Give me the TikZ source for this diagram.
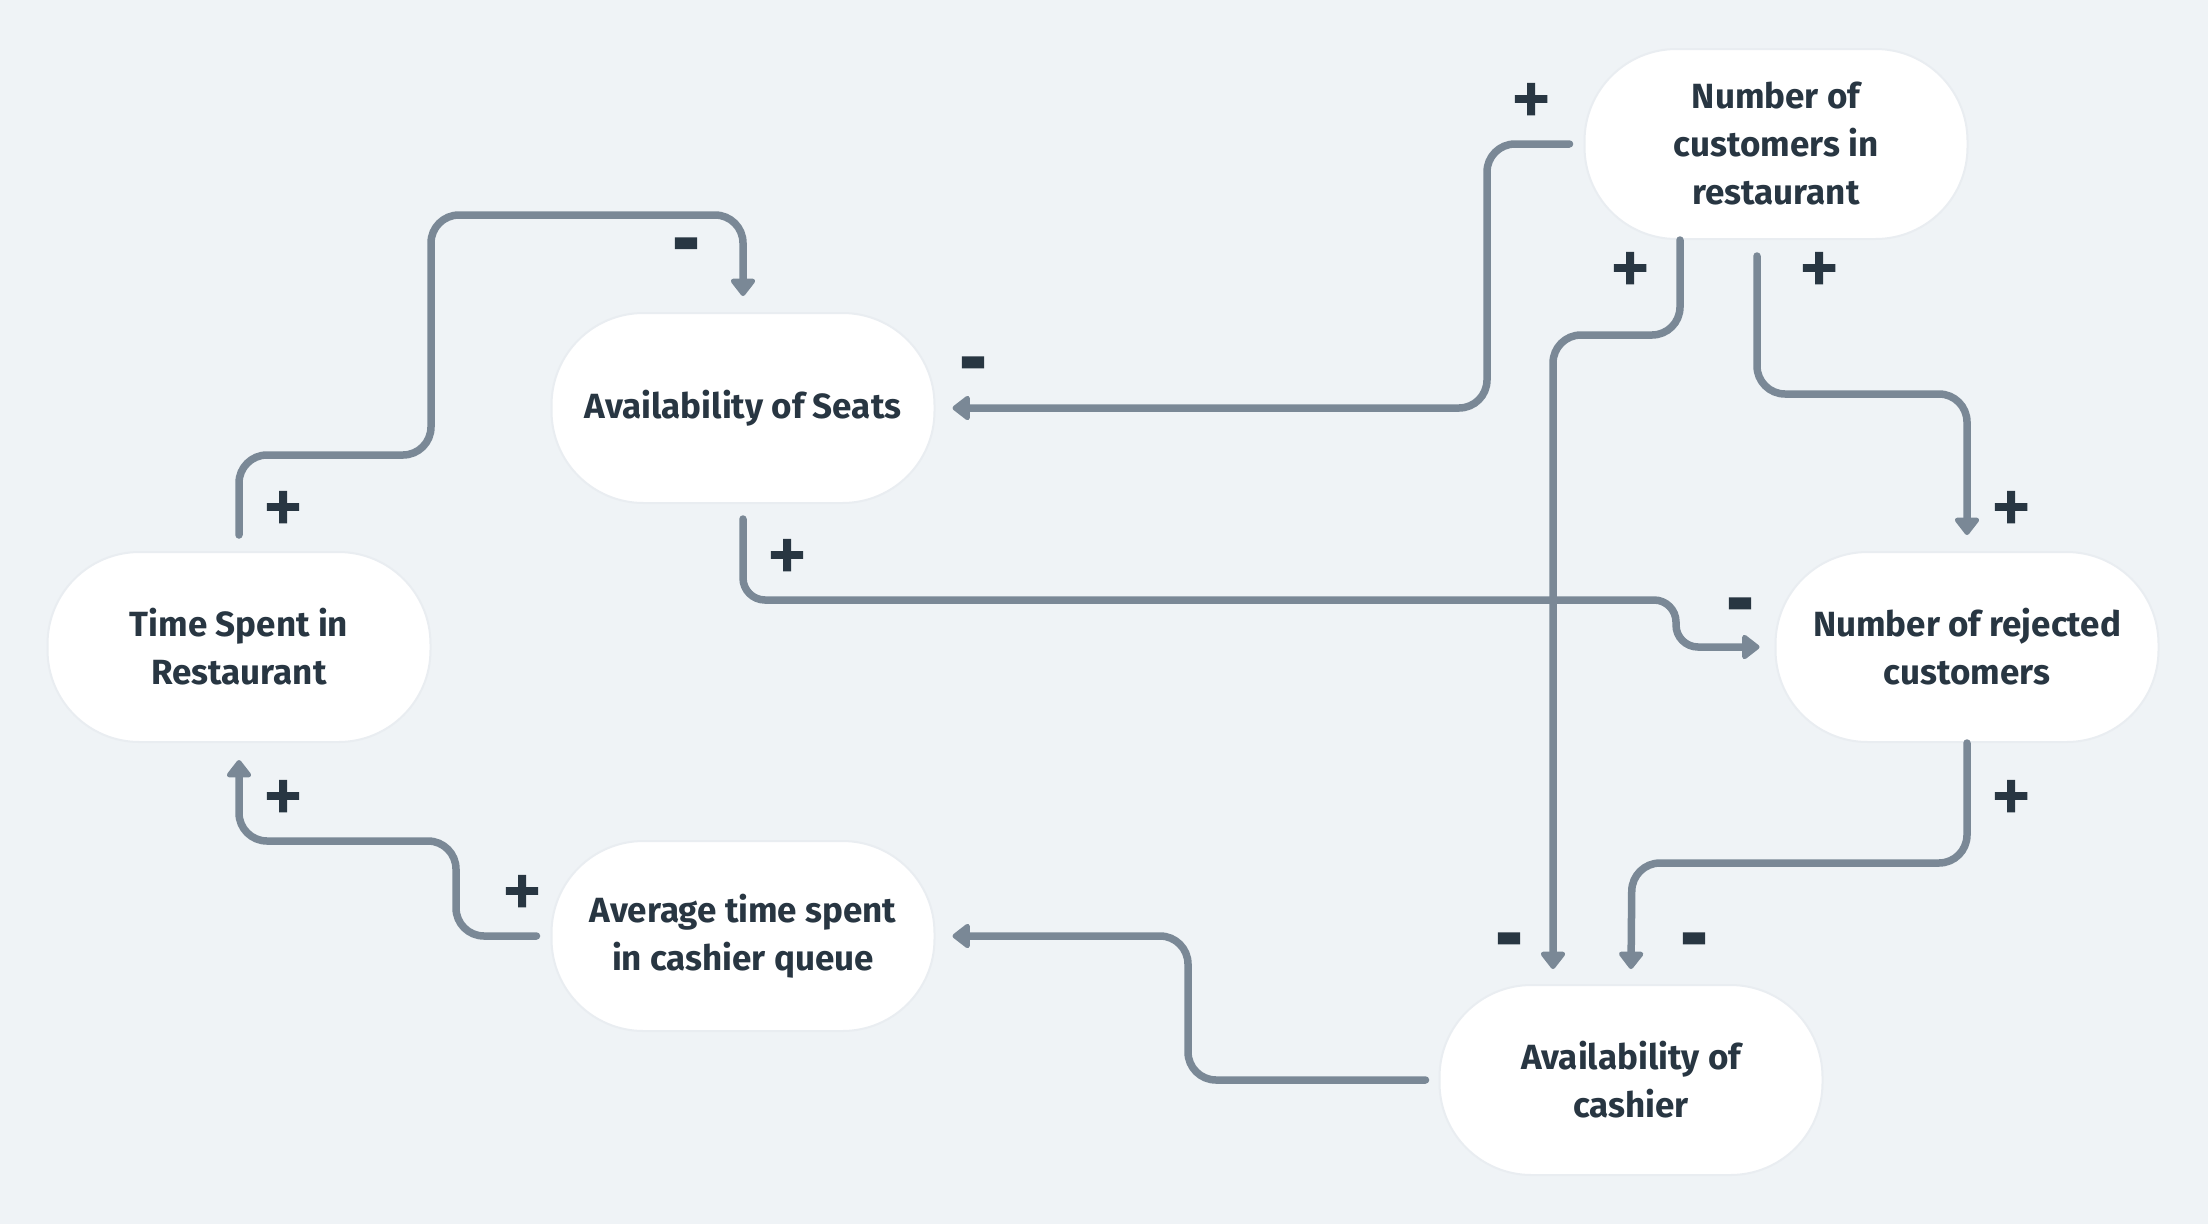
\documentclass[tikz,border=0pt]{standalone}
\usepackage{fontspec}
\setmainfont{Fira Sans}
\newfontfamily\signfont{DejaVu Sans Bold}[FakeBold=5]
\usetikzlibrary{arrows.meta}
\definecolor{bgc}{RGB}{239,243,246}
\definecolor{linec}{RGB}{122,136,150}
\definecolor{textc}{RGB}{40,54,66}
\definecolor{shadc}{RGB}{233,237,241}
\tikzset{
  varbox/.style={fill=white, draw=shadc, line width=2pt, rounded corners=92pt, minimum width=383pt, minimum height=190pt,
    align=center, text=textc, font=\fontsize{35pt}{48pt}\selectfont\bfseries, inner sep=0pt},
  conn/.style={draw=linec, line width=7.5pt, line cap=round, rounded corners=28pt,
    -{Triangle[width=28pt,length=19pt,round]}},
  plussign/.style={text=textc, font=\signfont\fontsize{48pt}{48pt}\selectfont, inner sep=0pt},
  minussign/.style={text=textc, font=\signfont\fontsize{62pt}{62pt}\selectfont, inner sep=0pt}
}
\begin{document}
\begin{tikzpicture}[x=1pt,y=-1pt]
\fill[bgc] (0,0) rectangle (2208,1224);
\useasboundingbox (0,0) rectangle (2208,1224);
% nodes
\node[varbox] (cust) at (1776,144) {Number of\\customers in\\restaurant};
\node[varbox] (seats) at (743,408) {Availability of Seats};
\node[varbox] (time) at (239,647) {Time Spent in\\Restaurant};
\node[varbox] (rej) at (1967,647) {Number of rejected\\customers};
\node[varbox] (avg) at (743,936) {Average time spent\\in cashier queue};
\node[varbox] (cash) at (1631,1080) {Availability of\\cashier};
% connectors
\draw[conn] ([yshift=16pt]time.north) |- (431,455) |- (743,215) -- ([yshift=16pt]seats.north);
\draw[conn] ([xshift=-14pt]cust.west) -| (1487,408) -- ([xshift=17pt]seats.east);
\draw[conn] ([xshift=-96pt]cust.south) |- (1553,335) -- ([xshift=-78pt,yshift=15pt]cash.north);
\draw[conn] ([xshift=-19pt,yshift=-16pt]cust.south) |- (1967,394) -- ([yshift=16pt]rej.north);
\draw[conn, rounded corners=22pt] ([yshift=-15pt]seats.south) |- (1676,600) |- ([xshift=-15pt]rej.west);
\draw[conn] (rej.south) |- (1632,863) -- ([yshift=15pt]cash.north);
\draw[conn] ([xshift=-13pt]cash.west) -| (1188,936) -- ([xshift=17pt]avg.east);
\draw[conn] ([xshift=-14pt]avg.west) -| (456,841) -| ([yshift=-17pt]time.south);
% polarity labels
\node[plussign] (l1) at (283,507) {+};
\node[minussign] (l2) at (686,250) {-};
\node[plussign] (l3) at (1531,99) {+};
\node[minussign] (l4) at (973,369) {-};
\node[plussign] (l5) at (1630,268) {+};
\node[minussign] (l6) at (1509,945) {-};
\node[plussign] (l7) at (1819,268) {+};
\node[plussign] (l8) at (2011,507) {+};
\node[plussign] (l9) at (787,555) {+};
\node[minussign] (l10) at (1740,610) {-};
\node[plussign] (l11) at (2011,796) {+};
\node[minussign] (l12) at (1694,945) {-};
\node[plussign] (l13) at (522,891) {+};
\node[plussign] (l14) at (283,796) {+};
\end{tikzpicture}
\end{document}
